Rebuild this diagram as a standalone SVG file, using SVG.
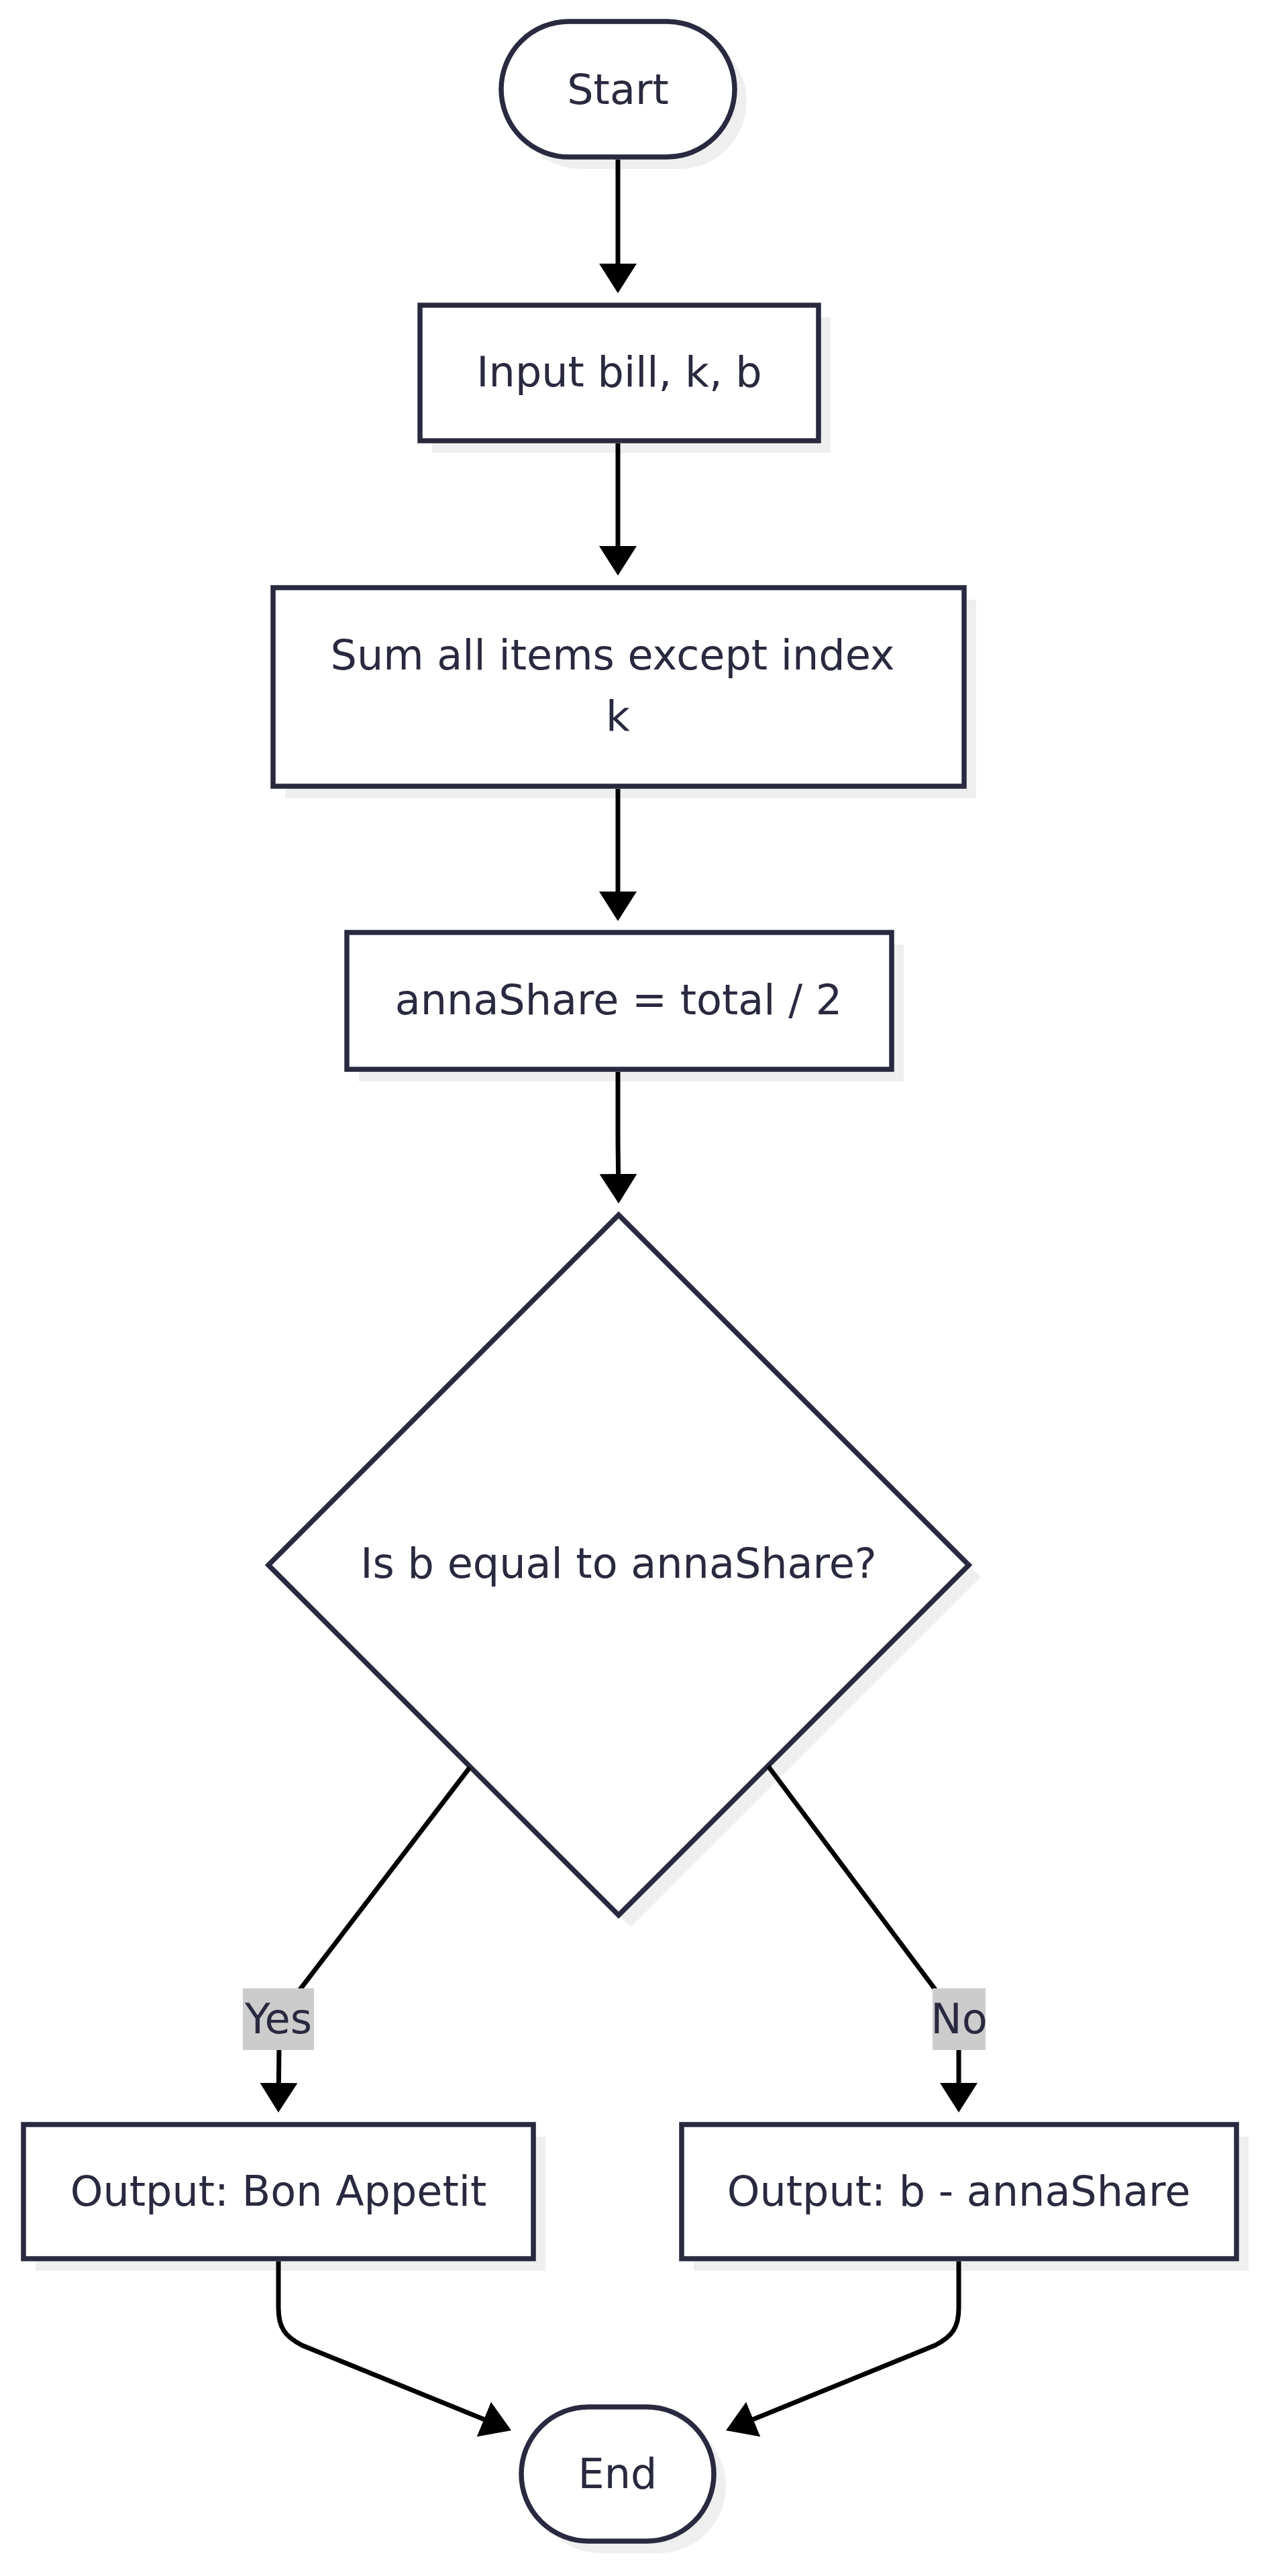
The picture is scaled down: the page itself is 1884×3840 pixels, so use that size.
<svg xmlns="http://www.w3.org/2000/svg" width="1884" height="3840" viewBox="0 0 1884 3840">
<style>
.bg{fill:#ffffff}
.shadow{fill:#efefef;stroke:none}
.node{fill:#ffffff;stroke:#29293f;stroke-width:7.5}
.edge{fill:none;stroke:#000000;stroke-width:7}
.lbl{font-family:"DejaVu Sans","Liberation Sans",sans-serif;font-size:62px;fill:#29293f;text-anchor:middle}
.ebox{fill:#cccccc;stroke:none}
</style>
<defs>
<marker id="arrow" markerUnits="userSpaceOnUse" viewBox="0 0 44 56" markerWidth="44" markerHeight="56" refX="36" refY="28" orient="auto">
<path d="M0,0 L44,28 L0,56 z" fill="#000000"/>
</marker>
</defs>
<rect class="bg" x="0" y="0" width="1884" height="3840"/>

<g id="start">
<rect class="shadow" x="765" y="50" width="348" height="202" rx="101"/>
<rect class="node" x="747" y="32" width="348" height="202" rx="101"/>
<text class="lbl" x="921" y="155">Start</text>
</g>

<g id="input">
<rect class="shadow" x="644" y="473" width="594" height="202"/>
<rect class="node" x="626" y="455" width="594" height="202"/>
<text class="lbl" x="923" y="576">Input bill, k, b</text>
</g>

<g id="sum">
<rect class="shadow" x="425" y="894" width="1030" height="296"/>
<rect class="node" x="407" y="876" width="1030" height="296"/>
<text class="lbl" x="913" y="998">Sum all items except index</text>
<text class="lbl" x="921" y="1089">k</text>
</g>

<g id="share">
<rect class="shadow" x="535" y="1408" width="812" height="204"/>
<rect class="node" x="517" y="1390" width="812" height="204"/>
<text class="lbl" x="922" y="1512">annaShare = total / 2</text>
</g>

<g id="decision">
<polygon class="shadow" points="940,1829 1462,2351 940,2873 418,2351"/>
<polygon class="node" points="922,1811 1444,2333 922,2855 400,2333"/>
<text class="lbl" x="922" y="2352">Is b equal to annaShare?</text>
</g>

<g id="out-yes">
<rect class="shadow" x="53" y="3185" width="760" height="200"/>
<rect class="node" x="35" y="3167" width="760" height="200"/>
<text class="lbl" x="415" y="3288">Output: Bon Appetit</text>
</g>

<g id="out-no">
<rect class="shadow" x="1034" y="3185" width="827" height="200"/>
<rect class="node" x="1016" y="3167" width="827" height="200"/>
<text class="lbl" x="1429" y="3288">Output: b - annaShare</text>
</g>

<g id="end">
<rect class="shadow" x="795" y="3606" width="287" height="200" rx="100"/>
<rect class="node" x="777" y="3588" width="287" height="200" rx="100"/>
<text class="lbl" x="920.5" y="3709">End</text>
</g>

<g id="connectors">
<path class="edge" d="M921,238 L921,429" marker-end="url(#arrow)"/>
<path class="edge" d="M921,661 L921,850" marker-end="url(#arrow)"/>
<path class="edge" d="M921,1176 L921,1365" marker-end="url(#arrow)"/>
<path class="edge" d="M921,1598 L921,1700 L922,1786" marker-end="url(#arrow)"/>
<path class="edge" d="M700,2635 L440,2975 Q416,3007 416,3050 L415,3141" marker-end="url(#arrow)"/>
<path class="edge" d="M1145,2633 L1401,2975 Q1429,3010 1429,3050 L1429,3141" marker-end="url(#arrow)"/>
<path class="edge" d="M415,3371 L415,3440 C415,3470 425,3483 450,3496 L754.6,3620" marker-end="url(#arrow)"/>
<path class="edge" d="M1429,3371 L1429,3440 C1429,3470 1419,3483 1394,3496 L1089.4,3620" marker-end="url(#arrow)"/>
</g>

<g id="label-yes">
<rect class="ebox" x="362" y="2964" width="106" height="92"/>
<text class="lbl" x="415" y="3031">Yes</text>
</g>
<g id="label-no">
<rect class="ebox" x="1390" y="2964" width="79" height="92"/>
<text class="lbl" x="1429.5" y="3031">No</text>
</g>
</svg>
